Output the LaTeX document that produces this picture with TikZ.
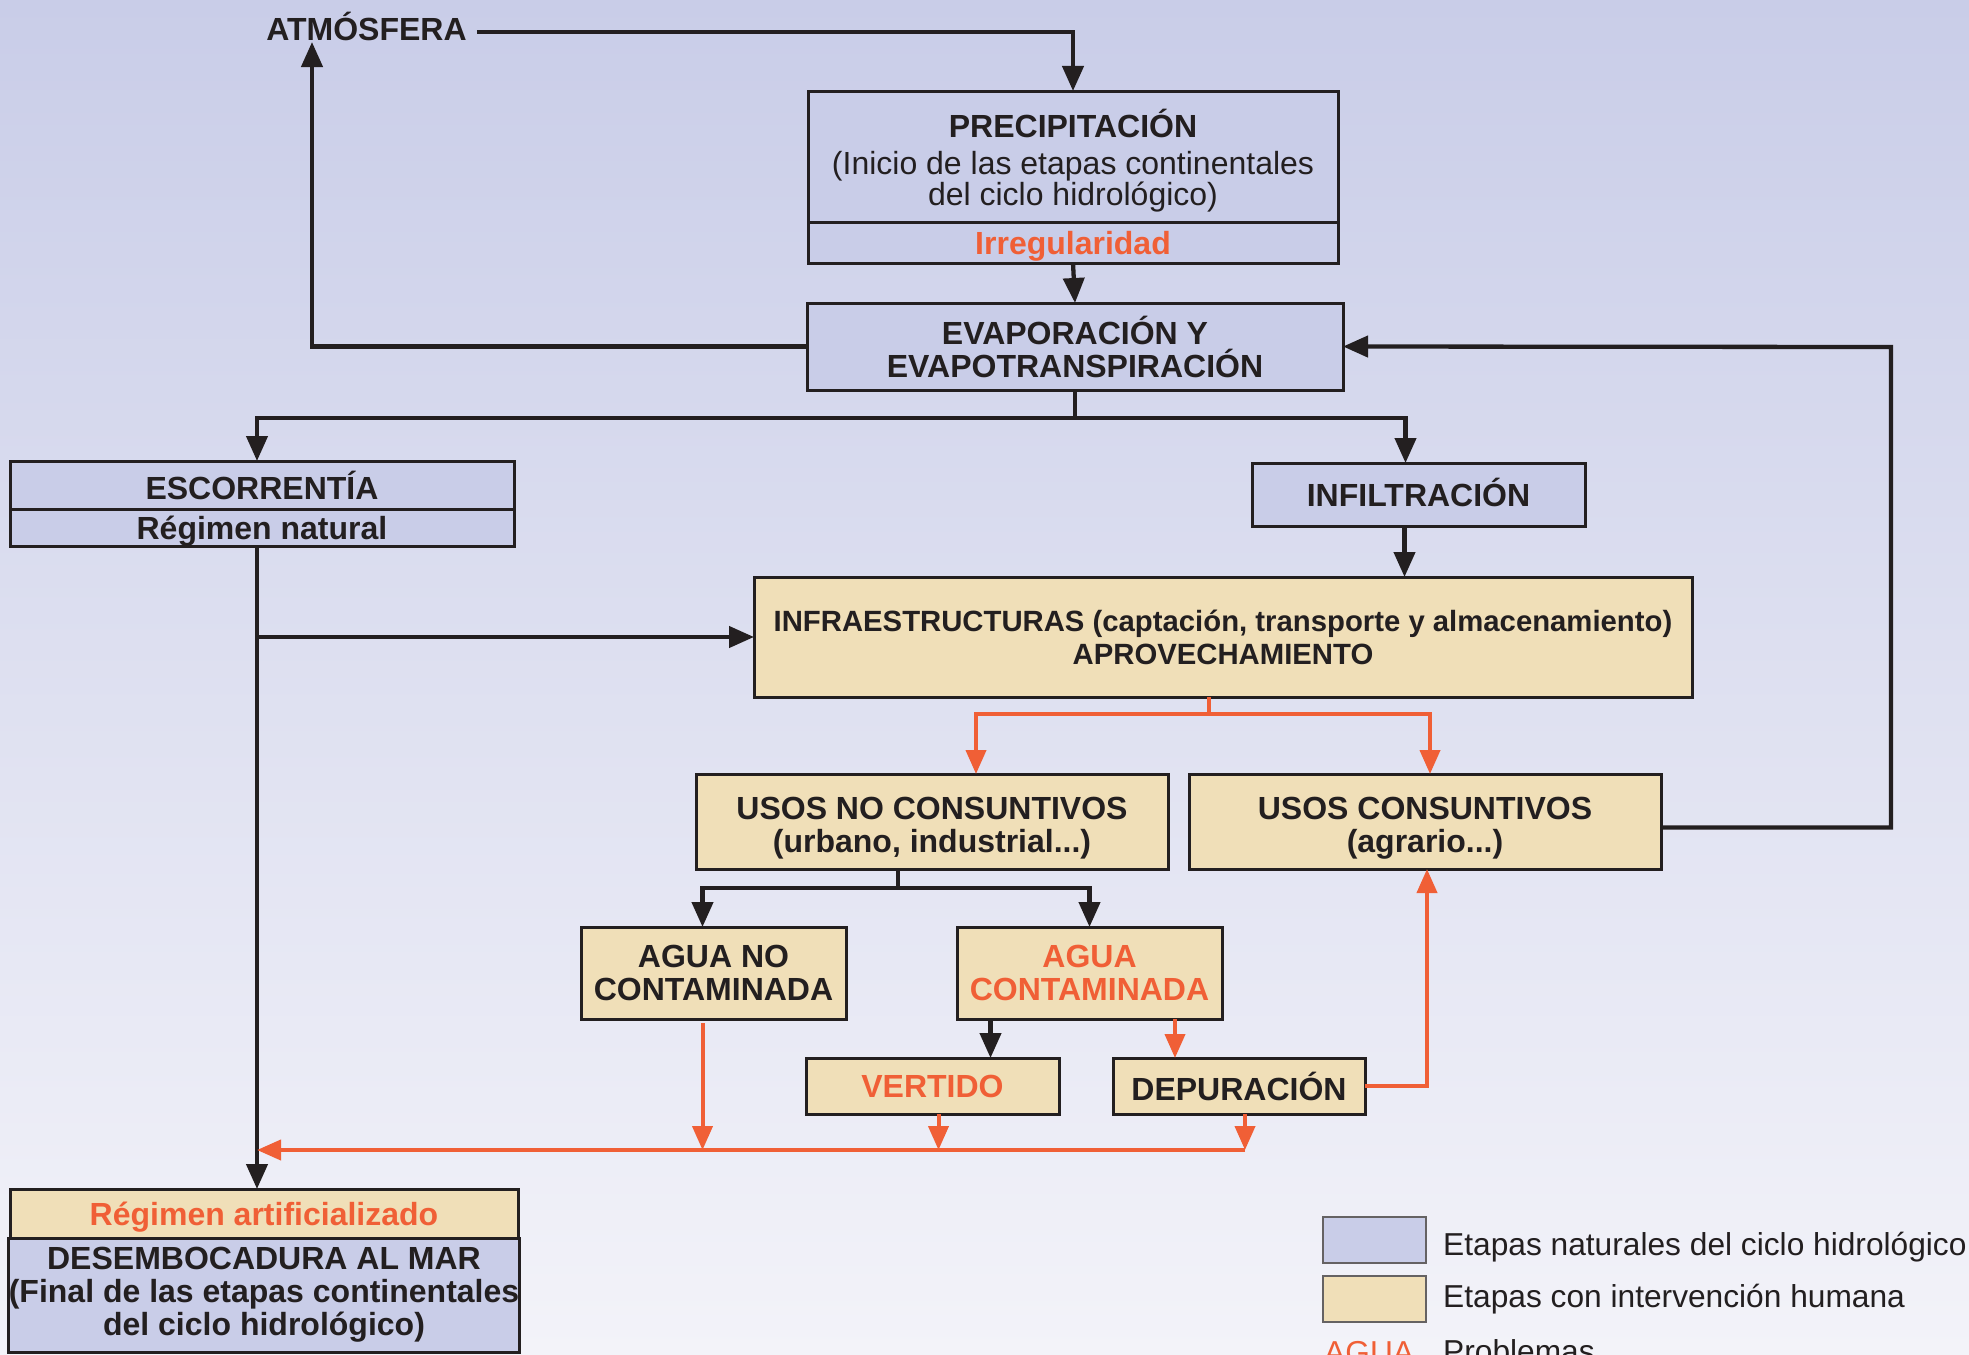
\documentclass[tikz,border=0pt]{standalone}
\usepackage{fontspec}
\setmainfont{Liberation Sans}
\usetikzlibrary{arrows.meta,calc}
\definecolor{bgtop}{HTML}{C9CDE8}
\definecolor{bgbot}{HTML}{F3F3F9}
\definecolor{natc}{HTML}{C9CDE8}
\definecolor{humc}{HTML}{F0DFB8}
\definecolor{orc}{HTML}{F05F36}
\definecolor{dk}{HTML}{231F20}
\begin{document}
\begin{tikzpicture}[x=1pt,y=-1pt,
  bx/.style={draw=dk,line width=3pt,inner sep=0pt,outer sep=0pt,align=center,
     font=\fontsize{32}{33}\selectfont\bfseries,text=dk},
  nat/.style={bx,fill=natc},
  hum/.style={bx,fill=humc},
  tx/.style={inner sep=0pt,outer sep=0pt,align=center,
     font=\fontsize{32}{33.5}\selectfont\bfseries,text=dk},
  capc/.style={text height=23pt,text depth=0pt},
  con/.style={draw=dk,line width=4.3pt,-{Triangle[length=25pt,width=21pt]}},
  ocon/.style={draw=orc,line width=4pt,-{Triangle[length=24pt,width=20pt]}},
  lgbox/.style={draw=dk!70,line width=1.5pt,inner sep=0pt,outer sep=0pt,
     minimum width=103pt,minimum height=46pt},
  lgtxt/.style={anchor=base west,inner sep=0pt,text=dk,font=\fontsize{31.7}{33}\selectfont}
]
\useasboundingbox (0,0) rectangle (1969,1354);
\fill[top color=bgtop,bottom color=bgbot] (0,0) rectangle (1969,1354);
\begin{scope}
\clip (0,0) rectangle (1969,1354);

% nodes
\node[font=\fontsize{32}{33}\selectfont\bfseries,text=dk,inner xsep=10pt,inner ysep=0pt] (atm) at (366.5,26) {ATMÓSFERA};
\coordinate (atmin) at (312,42);

\node[nat,minimum width=530pt,minimum height=131pt] (prec) at (1073,156.5) {};
\node[tx] (prect) at (1073,160.5)
  {PRECIPITACIÓN\\[3pt]{\mdseries (Inicio de las etapas continentales}\\[-2.5pt]{\mdseries del ciclo hidrológico)}};
\node[nat,minimum width=530pt,minimum height=41pt,text=orc,capc] (irr) at (1073,242.5) {Irregularidad};
\node[nat,minimum width=536pt,minimum height=87pt] (evap) at (1075,346.5) {EVAPORACIÓN Y\\EVAPOTRANSPIRACIÓN};

\node[nat,minimum width=504pt,minimum height=48pt] (esc) at (262,485) {ESCORRENTÍA};
\node[nat,minimum width=504pt,minimum height=37pt,capc] (reg) at (262,527.5) {Régimen natural};
\node[nat,minimum width=333pt,minimum height=63pt,capc] (inf) at (1418.5,494.5) {INFILTRACIÓN};

\node[hum,minimum width=938pt,minimum height=120pt,font=\fontsize{29.3}{33}\selectfont\bfseries] (infra) at (1223,637)
  {INFRAESTRUCTURAS (captación, transporte y almacenamiento)\\APROVECHAMIENTO};
\node[hum,minimum width=472pt,minimum height=95pt] (usn) at (932,821.5) {};
\node[tx] (usnt) at (932,828) {USOS NO CONSUNTIVOS\\(urbano, industrial...)};
\node[hum,minimum width=472pt,minimum height=95pt] (usc) at (1425,821.5) {};
\node[tx] (usct) at (1425,828) {USOS CONSUNTIVOS\\(agrario...)};

\node[hum,minimum width=265pt,minimum height=92pt] (anc) at (713.5,973) {AGUA NO\\CONTAMINADA};
\node[hum,minimum width=265pt,minimum height=92pt,text=orc] (ac) at (1089.5,973) {AGUA\\CONTAMINADA};
\node[hum,minimum width=253pt,minimum height=56pt,text=orc] (vert) at (932.5,1086) {VERTIDO};
\node[hum,minimum width=252pt,minimum height=56pt] (dep) at (1239,1086) {DEPURACIÓN};

\node[hum,minimum width=508pt,minimum height=49pt,text=orc,capc] (rart) at (264,1213.5) {Régimen artificializado};
\node[nat,minimum width=508pt,minimum height=114pt] (des) at (264,1295)
  {DESEMBOCADURA AL MAR\\(Final de las etapas continentales\\del ciclo hidrológico)};

% black connectors
\draw[con] ($(atm.east)+(0,6)$) -| (prec.north);
\draw[con] (evap.west) -| (atmin);
\draw[con] (irr.south) -- (evap.north);
\coordinate (escin) at ($(esc.north)+(-5,0)$);
\coordinate (infin) at ($(inf.north)+(-13,0)$);
\draw[con] (evap.south) -- ++(0,28) coordinate (j1) -| (escin);
\draw[con] (j1) -| (infin);
\coordinate (rc) at (1891,347);
\draw[con] ($(usc.east)+(0,6)$) -| (rc) -- (evap.east);
\coordinate (infout) at ($(inf.south)+(-14,0)$);
\draw[con] (infout) -- (infout |- infra.north);
\coordinate (regout) at ($(reg.south)+(-5,0)$);
\draw[con] (regout) -- (regout |- rart.north);
\draw[con] (regout |- infra.west) -- (infra.west);

% orange from infrastructures
\draw[ocon] ($(infra.south)+(-14,0)$) -- ++(0,17) coordinate (j2) -| ($(usn.north)+(44,0)$);
\draw[ocon] (j2) -| ($(usc.north)+(5,0)$);

% uses no consuntivos split
\draw[con] ($(usn.south)+(-34,0)$) -- ++(0,19) coordinate (j3) -| ($(anc.north)+(-11,0)$);
\draw[con] (j3) -| (ac.north);

% agua contaminada
\coordinate (c1) at ($(ac.south)+(-99,0)$);
\draw[con] (c1) -- (c1 |- vert.north);
\coordinate (c2) at ($(ac.south)+(85.5,0)$);
\draw[ocon] (c2) -- (c2 |- dep.north);
\draw[ocon] (dep.east) -| ($(usc.south)+(2,0)$);

% return line to the sea
\coordinate (base) at (0,1150);
\coordinate (a1) at ($(anc.south)+(-11,4)$);
\draw[ocon] (a1) -- (a1 |- base);
\coordinate (v1) at ($(vert.south)+(6,0)$);
\draw[ocon] (v1) -- (v1 |- base);
\coordinate (d1) at ($(dep.south)+(6,0)$);
\draw[ocon] (d1) -- (d1 |- base);
\draw[ocon] (d1 |- base) -- (regout |- base);

% legend
\node[lgbox,fill=natc] (lg1) at (1374.5,1240) {};
\node[lgbox,fill=humc] (lg2) at (1374.5,1299) {};
\node[lgtxt] (lt1) at (1443,1255) {Etapas naturales del ciclo hidrológico};
\node[lgtxt] (lt2) at (1443,1307) {Etapas con intervención humana};
\node[lgtxt,text=orc] (lt3a) at (1324,1363) {AGUA};
\node[lgtxt] (lt3) at (1443,1362) {Problemas};
\end{scope}
\end{tikzpicture}
\end{document}
